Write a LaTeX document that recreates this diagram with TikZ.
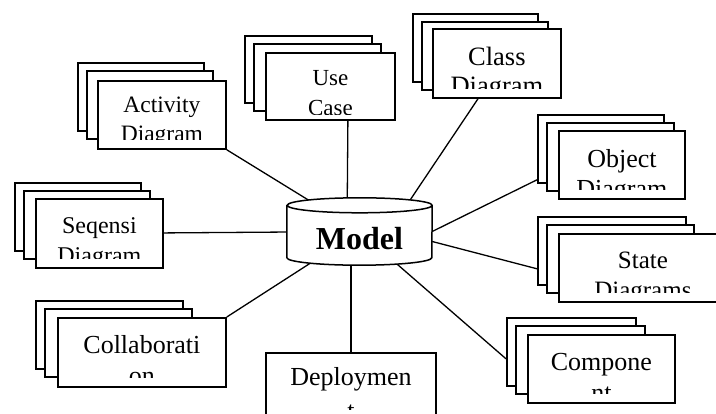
\documentclass[tikz,border=0pt]{standalone}
\usepackage{fontspec}
\setmainfont{Liberation Serif}

\pgfdeclarelayer{wires}
\pgfsetlayers{wires,main}

\tikzset{
    card/.style = {
        rectangle, draw, fill=white,
        line width=1.8pt,
        minimum height=68pt,
        inner sep=0pt,
        anchor=north west
    },
    wire/.style = {
        line width=1.3pt
    },
    drum/.style = {
        draw, fill=white, line width=1.5pt
    }
}

% name, size, first baseline, second baseline, bottom cut, line 1, line 2
\newcommand{\cardtext}[7]{%
    \clip ([yshift=#5]path picture bounding box.south west) rectangle (path picture bounding box.north east);
    \node (#1-a) [anchor=base, font=\fontsize{#2}{#2}\selectfont] at ([yshift=-#3]path picture bounding box.north) {#6};
    \node (#1-b) [anchor=base, font=\fontsize{#2}{#2}\selectfont] at ([yshift=-#4]path picture bounding box.north) {#7};
}

\begin{document}
\begin{tikzpicture}[x=1pt, y=-1pt]

\useasboundingbox (0,0) rectangle (716,414);
\clip (0,0) rectangle (716,414);

% activity
\node (act3) [card, minimum width=126pt] at (77,62) {};
\node (act2) [card, minimum width=126pt] at ([shift={(9,8.5)}]act3.north west) {};
\node (act) [card, minimum width=128pt, path picture={\cardtext{act}{23.5}{32pt}{61pt}{9pt}{Activity}{Diagram}}] at ([shift={(20,18)}]act3.north west) {};

% use case
\node (use3) [card, minimum width=127pt, minimum height=67pt] at (244,35) {};
\node (use2) [card, minimum width=127pt, minimum height=67pt] at ([shift={(9,8.5)}]use3.north west) {};
\node (use) [card, minimum width=129pt, minimum height=67pt, path picture={\cardtext{use}{23}{33pt}{63pt}{5pt}{Use}{Case}}] at ([shift={(21,17)}]use3.north west) {};

% class
\node (cls3) [card, minimum width=125pt] at (412,13) {};
\node (cls2) [card, minimum width=126pt] at ([shift={(9,8.5)}]cls3.north west) {};
\node (cls) [card, minimum width=128pt, minimum height=69pt, path picture={\cardtext{cls}{26.5}{37pt}{66pt}{9pt}{Class}{Diagram}}] at ([shift={(20,15)}]cls3.north west) {};

% object
\node (obj3) [card, minimum width=126pt] at (537,114) {};
\node (obj2) [card, minimum width=127pt] at ([shift={(9,8.5)}]obj3.north west) {};
\node (obj) [card, minimum width=126pt, path picture={\cardtext{obj}{26}{37pt}{67pt}{9pt}{Object}{Diagram}}] at ([shift={(21,16)}]obj3.north west) {};

% sequence
\node (seq3) [card, minimum width=126pt] at (14,182) {};
\node (seq2) [card, minimum width=126pt] at ([shift={(9,8.5)}]seq3.north west) {};
\node (seq) [card, minimum width=127pt, minimum height=69pt, path picture={\cardtext{seq}{24}{35pt}{65pt}{9pt}{Seqensi}{Diagram}}] at ([shift={(21,16)}]seq3.north west) {};

% state
\node (sta3) [card, minimum width=148pt] at (537,216) {};
\node (sta2) [card, minimum width=147pt] at ([shift={(9,8.5)}]sta3.north west) {};
\node (sta) [card, minimum width=168pt, path picture={\cardtext{sta}{25}{35pt}{65pt}{9pt}{State}{Diagrams}}] at ([shift={(21,17)}]sta3.north west) {};

% collaboration
\node (col3) [card, minimum width=147pt] at (35,300) {};
\node (col2) [card, minimum width=147pt] at ([shift={(9,8.5)}]col3.north west) {};
\node (col) [card, minimum width=168pt, minimum height=69pt, path picture={\cardtext{col}{26}{36pt}{67pt}{9pt}{Collaborati}{on}}] at ([shift={(22,17)}]col3.north west) {};

% component
\node (com3) [card, minimum width=129pt] at (506,317) {};
\node (com2) [card, minimum width=129pt] at ([shift={(9,8.5)}]com3.north west) {};
\node (com) [card, minimum width=147pt, path picture={\cardtext{com}{26}{36pt}{67pt}{9pt}{Compone}{nt}}] at ([shift={(21,17)}]com3.north west) {};

% deployment
\node (dep) [card, minimum width=170pt, minimum height=66pt, path picture={\cardtext{dep}{26}{33pt}{67pt}{9pt}{Deploymen}{t}}] at (265,352) {};

% model
\node (model) [minimum width=145pt, minimum height=67pt, inner sep=0pt] at (359.5,231.5) {};
\draw [drum] ([yshift=-7.5pt]model.north west) -- ([yshift=7.5pt]model.south west)
    arc[start angle=180, end angle=360, x radius=72.5pt, y radius=7.5pt]
    -- ([yshift=-7.5pt]model.north east)
    arc[start angle=0, end angle=180, x radius=72.5pt, y radius=7.5pt]
    arc[start angle=180, end angle=360, x radius=72.5pt, y radius=7.5pt];
\node (modeltext) [anchor=base, font=\fontsize{32}{32}\selectfont\bfseries] at ([yshift=-18.5pt]model.center) {Model};

\begin{pgfonlayer}{wires}
\draw [wire] (act.south east) -- (model.center);
\draw [wire] ([xshift=17.5pt]use.south) -- ([xshift=-12.5pt]model.center);
\draw [wire] ([xshift=46pt]cls.south west) -- ([xshift=29.5pt]model.center);
\draw [wire] ([yshift=4pt]obj3.south west) -- (model.east);
\draw [wire] (seq) -- (model.center);
\draw [wire] ([yshift=17pt]sta3.south west) -- ([yshift=-10pt]model.east);
\draw [wire] (col.north east) -- (model.center);
\draw [wire] (dep.north) -- (dep.north |- model.center);
\draw [wire] ([yshift=28pt]com3.south west) -- (model.center);
\end{pgfonlayer}

\end{tikzpicture}
\end{document}
